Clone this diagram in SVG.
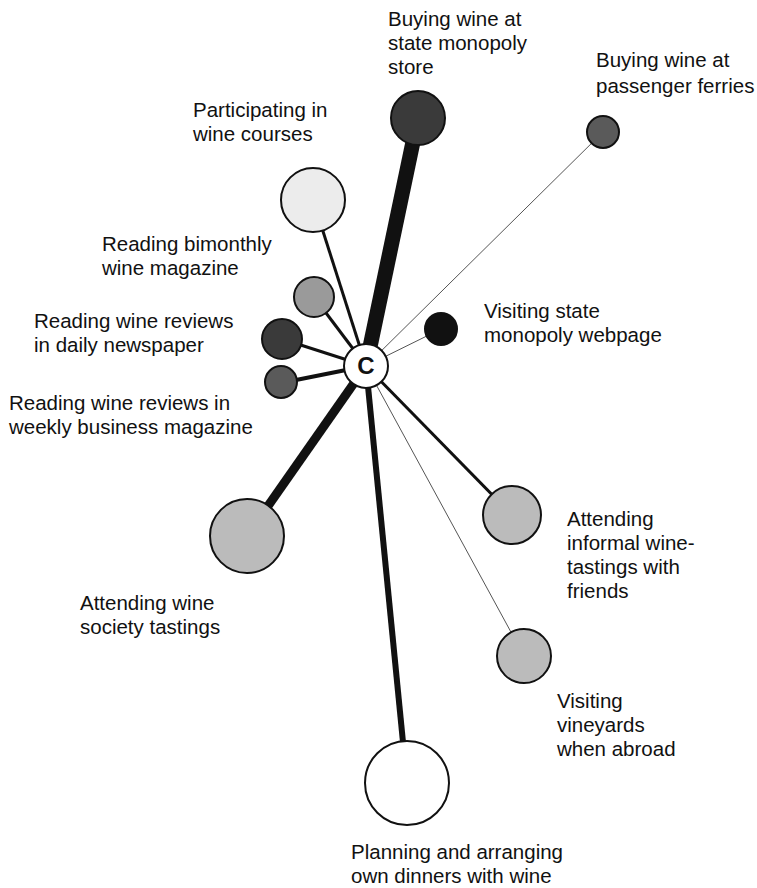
<svg xmlns="http://www.w3.org/2000/svg" width="757" height="888" viewBox="0 0 757 888">
  <style>
    .lbl { font-family: "Liberation Sans", Arial, sans-serif; font-size: 20.5px; fill: #111; }
    .node { stroke: #111; stroke-width: 2; }
    .edge { stroke: #111; stroke-linecap: butt; fill: none; }
    .thin { stroke: #555; stroke-width: 1; }
  </style>
  <rect width="757" height="888" fill="#fff"/>

  <!-- spokes from the centre node -->
  <g id="connectors">
    <line class="edge" x1="366" y1="366" x2="418" y2="118" stroke-width="15"/>
    <line class="edge thin" x1="366" y1="366" x2="603" y2="132"/>
    <line class="edge" x1="366" y1="366" x2="313" y2="200" stroke-width="3"/>
    <line class="edge" x1="366" y1="366" x2="314" y2="297" stroke-width="3"/>
    <line class="edge" x1="366" y1="366" x2="282" y2="339" stroke-width="3"/>
    <line class="edge" x1="366" y1="366" x2="281" y2="383" stroke-width="4"/>
    <line class="edge thin" x1="366" y1="366" x2="441" y2="329"/>
    <line class="edge" x1="366" y1="366" x2="247" y2="536" stroke-width="9"/>
    <line class="edge" x1="366" y1="366" x2="512" y2="515" stroke-width="3"/>
    <line class="edge thin" x1="366" y1="366" x2="524" y2="656"/>
    <line class="edge" x1="366" y1="366" x2="407" y2="783" stroke-width="6"/>
  </g>

  <g id="n-store">
    <circle class="node" cx="418" cy="118" r="27" fill="#3a3a3a"/>
    <text class="lbl" x="388" y="26">Buying wine at</text>
    <text class="lbl" x="388" y="50">state monopoly</text>
    <text class="lbl" x="388" y="74">store</text>
  </g>
  <g id="n-ferries">
    <circle class="node" cx="603" cy="132" r="16" fill="#5a5a5a"/>
    <text class="lbl" x="596" y="67">Buying wine at</text>
    <text class="lbl" x="596" y="93">passenger ferries</text>
  </g>
  <g id="n-courses">
    <circle class="node" cx="313" cy="200" r="32" fill="#ececec"/>
    <text class="lbl" x="193" y="117">Participating in</text>
    <text class="lbl" x="193" y="141">wine courses</text>
  </g>
  <g id="n-bimonthly">
    <circle class="node" cx="314" cy="297" r="20" fill="#9a9a9a"/>
    <text class="lbl" x="102" y="251">Reading bimonthly</text>
    <text class="lbl" x="102" y="275">wine magazine</text>
  </g>
  <g id="n-daily">
    <circle class="node" cx="282" cy="339" r="20" fill="#3a3a3a"/>
    <text class="lbl" x="34" y="328">Reading wine reviews</text>
    <text class="lbl" x="34" y="352">in daily newspaper</text>
  </g>
  <g id="n-weekly">
    <circle class="node" cx="281" cy="382" r="16" fill="#5a5a5a"/>
    <text class="lbl" x="9" y="410">Reading wine reviews in</text>
    <text class="lbl" x="9" y="434">weekly business magazine</text>
  </g>
  <g id="n-webpage">
    <circle class="node" cx="441" cy="329" r="16" fill="#111"/>
    <text class="lbl" x="484" y="318">Visiting state</text>
    <text class="lbl" x="484" y="342">monopoly webpage</text>
  </g>
  <g id="n-society">
    <circle class="node" cx="247" cy="536" r="37" fill="#bbb"/>
    <text class="lbl" x="80" y="610">Attending wine</text>
    <text class="lbl" x="80" y="634">society tastings</text>
  </g>
  <g id="n-informal">
    <circle class="node" cx="512" cy="515" r="29" fill="#bbb"/>
    <text class="lbl" x="567" y="526">Attending</text>
    <text class="lbl" x="567" y="550">informal wine-</text>
    <text class="lbl" x="567" y="574">tastings with</text>
    <text class="lbl" x="567" y="598">friends</text>
  </g>
  <g id="n-vineyards">
    <circle class="node" cx="524" cy="656" r="27" fill="#bbb"/>
    <text class="lbl" x="557" y="708">Visiting</text>
    <text class="lbl" x="557" y="732">vineyards</text>
    <text class="lbl" x="557" y="756">when abroad</text>
  </g>
  <g id="n-dinners">
    <circle class="node" cx="407" cy="783" r="42" fill="#fff"/>
    <text class="lbl" x="351" y="859">Planning and arranging</text>
    <text class="lbl" x="351" y="883">own dinners with wine</text>
  </g>

  <g id="n-centre">
    <circle class="node" cx="366" cy="366" r="22" fill="#fff"/>
    <text x="366" y="374" text-anchor="middle" font-family="Liberation Sans, Arial, sans-serif" font-size="24" font-weight="bold" fill="#111">C</text>
  </g>
</svg>
